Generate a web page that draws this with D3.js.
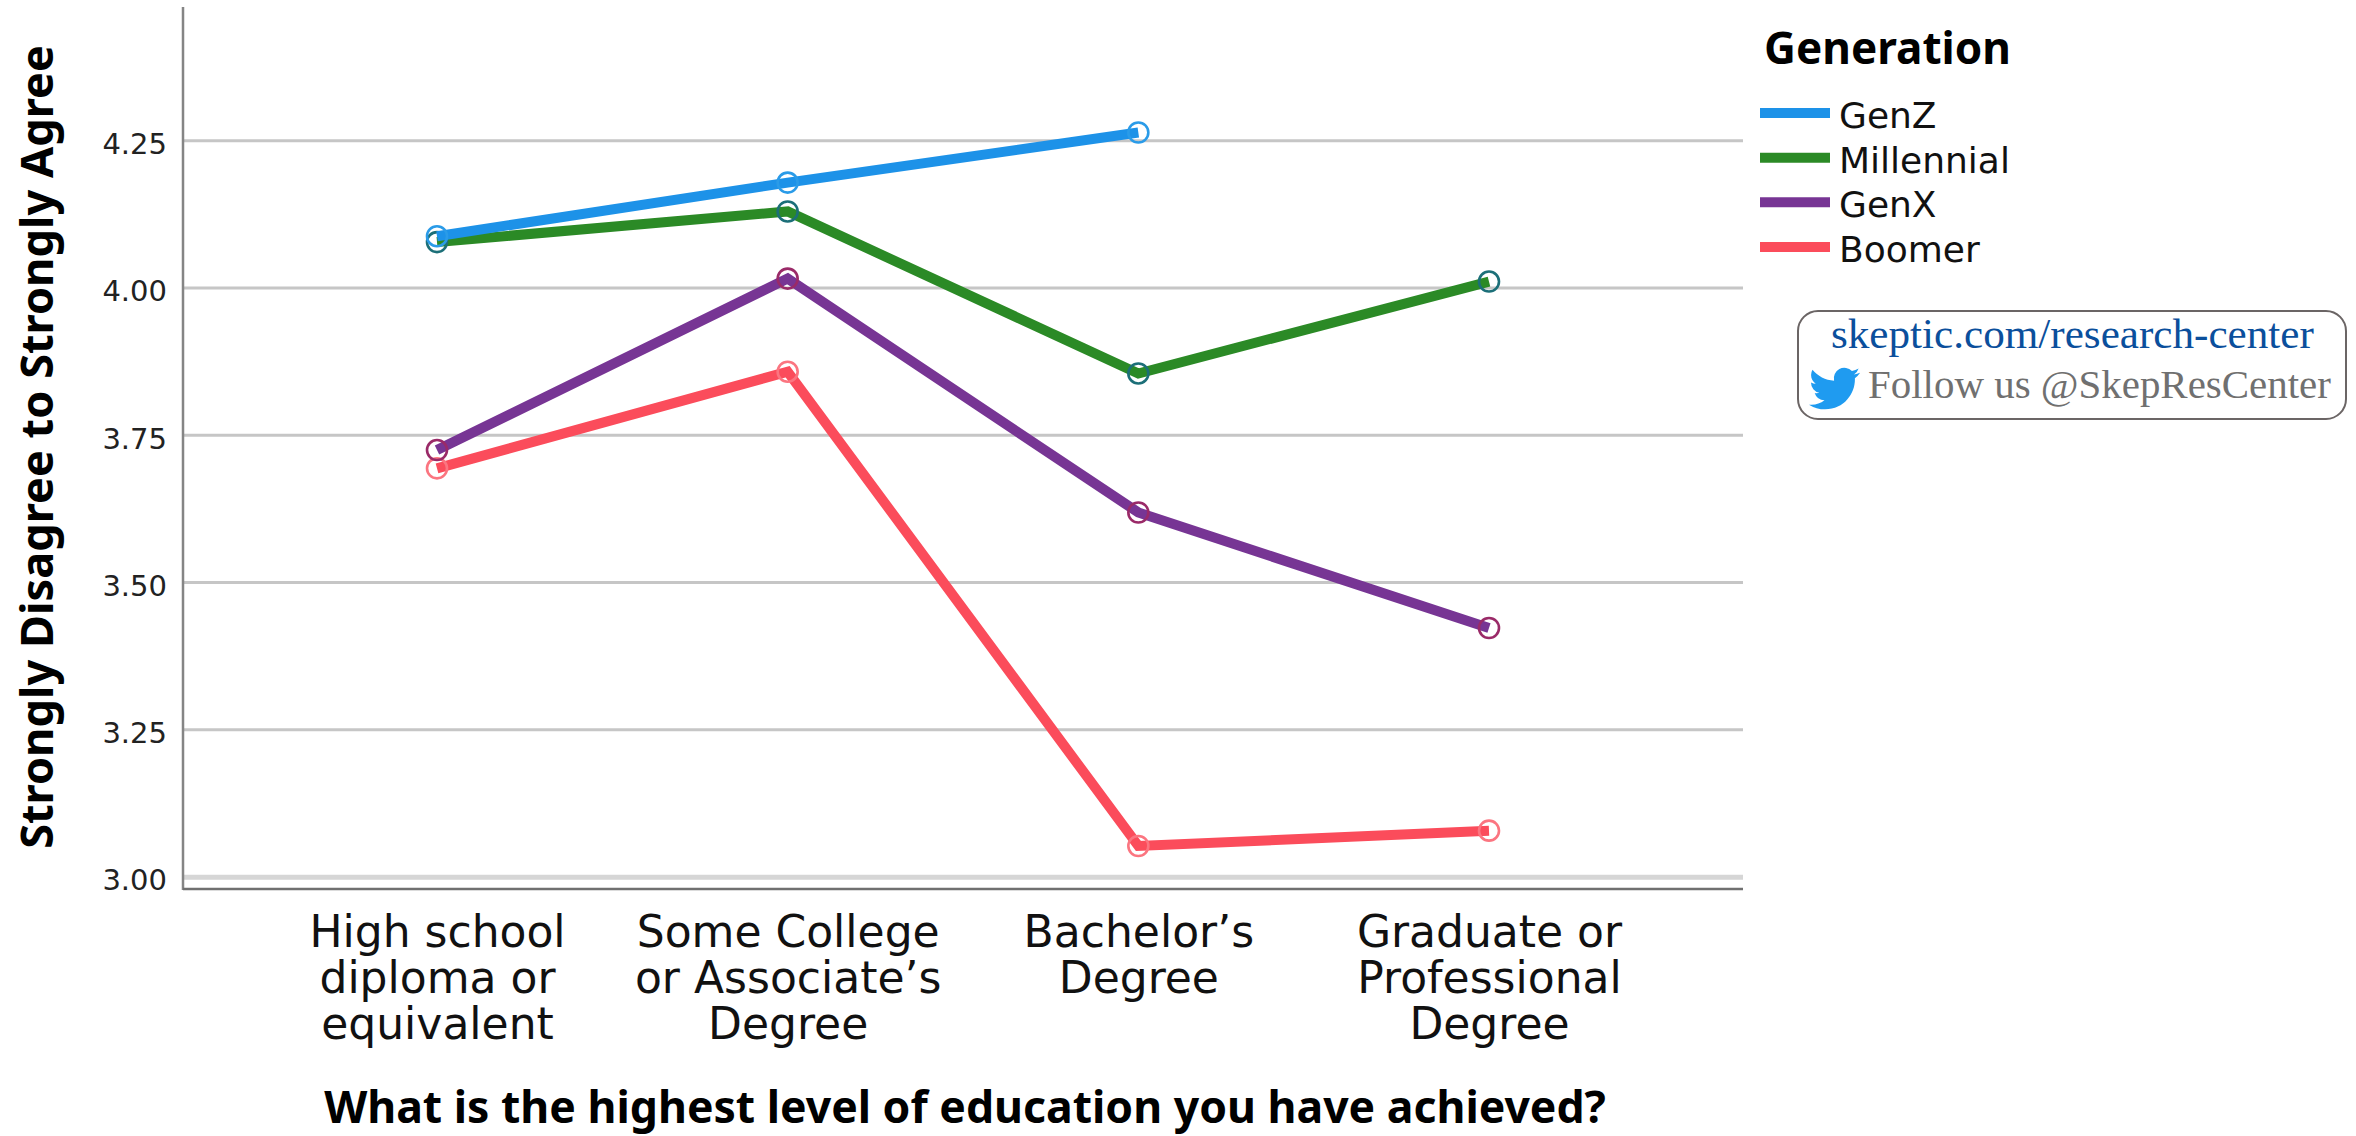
<!DOCTYPE html>
<html>
<head>
<meta charset="utf-8">
<script src="https://d3js.org/d3.v7.min.js"></script>
<style>
	body { margin: 0; background: #fff; }
	text { font-family: "DejaVu Sans", sans-serif; fill: #111; }
	.title { font-family: "Noto Sans", sans-serif; font-weight: bold; fill: #000; }
	.domain { display: none; }
</style>
</head>
<body>
<svg id="chart" width="2356" height="1136"></svg>
<script>
var categories = ["High school diploma or equivalent", "Some College or Associate’s Degree", "Bachelor’s Degree", "Graduate or Professional Degree"];
var categoryLines = [
	["High school", "diploma or", "equivalent"],
	["Some College", "or Associate’s", "Degree"],
	["Bachelor’s", "Degree"],
	["Graduate or", "Professional", "Degree"]
];
var yTicks = [3.00, 3.25, 3.50, 3.75, 4.00, 4.25];

var genZ = [4.087, 4.178, 4.263, null];
var millennial = [4.077, 4.129, 3.854, 4.010];
var genX = [3.724, 4.015, 3.618, 3.422];
var boomer = [3.693, 3.857, 3.052, 3.078];

var seriesNames = ["GenZ", "Millennial", "GenX", "Boomer"];
var seriesValues = [genZ, millennial, genX, boomer];
var lineColors = ["#1d92e8", "#2b8a26", "#773594", "#fb4c5b"];
var markerColors = ["#2a9be8", "#1c6f78", "#9a2a68", "#fb7580"];

var svg = d3.select("#chart");

var left = 183, right = 1743, top_ = 7, bottom = 889;

// value axis runs a little past the ticks on both ends
var y = d3.scaleLinear().domain([2.979, 4.476]).range([bottom, top_]);
var x = d3.scalePoint().domain(categories).range([437, 1489]);

// grid
var grid = svg.append("g")
	.attr("transform", "translate(" + left + ",0)")
	.call(d3.axisLeft(y).tickValues(yTicks).tickSize(-(right - left)).tickFormat(""));
grid.selectAll("line")
	.attr("stroke", function(d) { return d == 3 ? "#d6d6d6" : "#c6c6c6"; })
	.attr("stroke-width", function(d) { return d == 3 ? 5 : 3; });

// axes
var yAxis = svg.append("g")
	.attr("transform", "translate(" + left + ",0)")
	.call(d3.axisLeft(y).tickValues(yTicks).tickSize(0).tickPadding(16).tickFormat(d3.format(".2f")));
yAxis.selectAll("text")
	.attr("dy", "0.46em")
	.style("font-size", "29px")
	.style("fill", "#222");

var xAxis = svg.append("g")
	.attr("transform", "translate(0," + bottom + ")")
	.call(d3.axisBottom(x).tickSize(0).tickFormat(""));
xAxis.selectAll(".tick text")
	.attr("y", 0).attr("dy", null)
	.style("font-size", "44px")
	.each(function(d, i) {
		d3.select(this).selectAll("tspan")
			.data(categoryLines[i])
			.enter().append("tspan")
			.attr("x", 0)
			.attr("y", function(l, j) { return 58 + j * 46; })
			.text(function(l) { return l; });
	});

svg.append("line")
	.attr("x1", left).attr("x2", left).attr("y1", top_).attr("y2", bottom + 1)
	.attr("stroke", "#858585").attr("stroke-width", 2.5);
svg.append("line")
	.attr("x1", left).attr("x2", right).attr("y1", bottom).attr("y2", bottom)
	.attr("stroke", "#707070").attr("stroke-width", 2.5);

// series, boomer at the bottom of the stack
var line = d3.line()
	.defined(function(d) { return d != null; })
	.x(function(d, i) { return x(categories[i]); })
	.y(function(d) { return y(d); });

d3.range(seriesNames.length).reverse().forEach(function(s) {
	svg.append("path")
		.attr("d", line(seriesValues[s]))
		.attr("fill", "none")
		.attr("stroke", lineColors[s])
		.attr("stroke-width", 10)
		.attr("stroke-linejoin", "miter");
	svg.append("g").selectAll("circle")
		.data(seriesValues[s])
		.enter().filter(function(d) { return d != null; }).append("circle")
		.attr("cx", function(d) { return x(categories[seriesValues[s].indexOf(d)]); })
		.attr("cy", function(d) { return y(d); })
		.attr("r", 10)
		.attr("fill", "none")
		.attr("stroke", markerColors[s])
		.attr("stroke-width", 2.6);
});

// shrink or grow a label until it is as wide as in the picture
function fit(sel, width) {
	var size = parseFloat(sel.style("font-size"));
	sel.style("font-size", size * width / sel.node().getComputedTextLength() + "px");
	return sel;
}

fit(svg.append("text")
	.attr("class", "title")
	.attr("x", 965).attr("y", 1123)
	.attr("text-anchor", "middle")
	.style("font-size", "40px")
	.text("What is the highest level of education you have achieved?"), 1282);

fit(svg.append("text")
	.attr("class", "title")
	.attr("transform", "translate(53,447) rotate(-90)")
	.attr("text-anchor", "middle")
	.style("font-size", "40px")
	.text("Strongly Disagree to Strongly Agree"), 804);

// legend
fit(svg.append("text")
	.attr("class", "title")
	.attr("x", 1764).attr("y", 64)
	.style("font-size", "40px")
	.text("Generation"), 247);

var legendLineY = d3.scalePoint().domain(seriesNames).range([113, 247]);
var legend = svg.append("g").selectAll("g")
	.data(seriesNames)
	.enter().append("g");
legend.append("line")
	.attr("x1", 1760).attr("x2", 1830)
	.attr("y1", function(d) { return legendLineY(d); })
	.attr("y2", function(d) { return legendLineY(d); })
	.attr("stroke", function(d, i) { return lineColors[i]; })
	.attr("stroke-width", 10);
legend.append("text")
	.attr("x", 1839)
	.attr("y", function(d) { return legendLineY(d) + 15; })
	.style("font-size", "36px")
	.text(function(d) { return d; });

// follow box
svg.append("rect")
	.attr("x", 1798).attr("y", 311).attr("width", 548).attr("height", 108).attr("rx", 20)
	.attr("fill", "#fff").attr("stroke", "#6b6565").attr("stroke-width", 2);
fit(svg.append("text")
	.attr("x", 1831).attr("y", 348)
	.style("font-family", "'Liberation Serif', serif").style("font-size", "40px").style("fill", "#0b4f9c")
	.text("skeptic.com/research-center"), 483);
fit(svg.append("text")
	.attr("x", 1868).attr("y", 398)
	.style("font-family", "'Liberation Serif', serif").style("font-size", "40px").style("fill", "#707070")
	.text("Follow us @SkepResCenter"), 463);
svg.append("path")
	.attr("transform", "translate(1809,363) scale(2.13)")
	.attr("fill", "#1f9bf0")
	.attr("d", "M23.953 4.57a10 10 0 01-2.825.775 4.958 4.958 0 002.163-2.723c-.951.555-2.005.959-3.127 1.184a4.92 4.92 0 00-8.384 4.482C7.69 8.095 4.067 6.13 1.64 3.162a4.822 4.822 0 00-.666 2.475c0 1.71.87 3.213 2.188 4.096a4.904 4.904 0 01-2.228-.616v.06a4.923 4.923 0 003.946 4.827 4.996 4.996 0 01-2.212.085 4.936 4.936 0 004.604 3.417 9.867 9.867 0 01-6.102 2.105c-.39 0-.779-.023-1.17-.067a13.995 13.995 0 007.557 2.209c9.053 0 13.998-7.496 13.998-13.985 0-.21 0-.42-.015-.63A9.935 9.935 0 0024 4.59z");
</script>
</body>
</html>
